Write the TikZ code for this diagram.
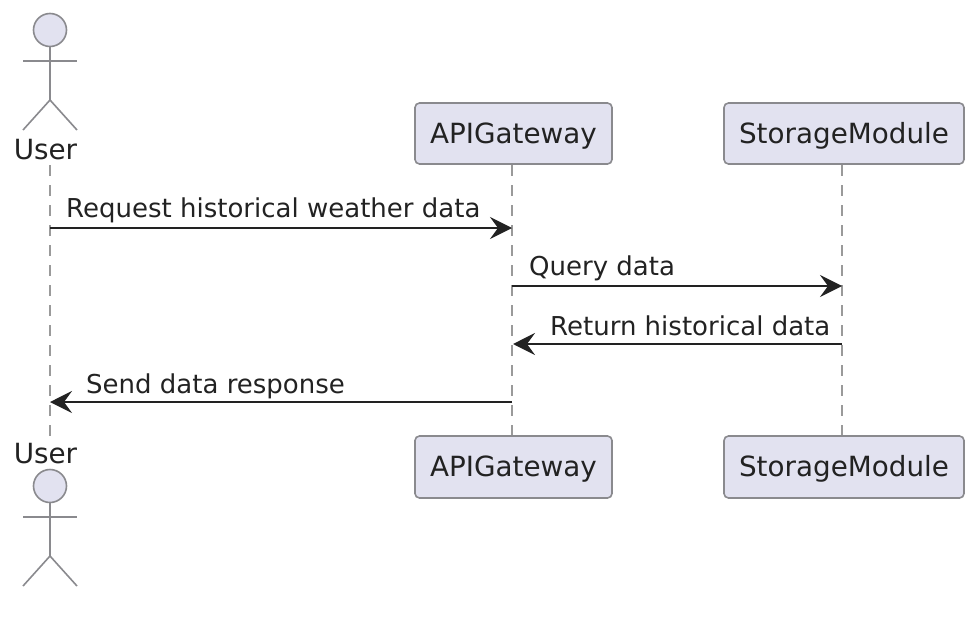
\documentclass[tikz,border=0pt]{standalone}
\usepackage{fontspec}
\setmainfont{DejaVu Sans}
\usetikzlibrary{arrows.meta}
\definecolor{partfill}{HTML}{E2E2F0}
\definecolor{partdraw}{HTML}{8A8A8E}
\definecolor{lifegray}{HTML}{9A9A9A}
\definecolor{inkdark}{HTML}{222222}
\tikzset{
  participant/.style={rectangle,rounded corners=4.5pt,draw=partdraw,line width=1.6pt,fill=partfill,text=inkdark,minimum height=61pt,inner sep=0pt,text height=22pt,text depth=2.5pt,font=\fontsize{27.8}{32}\selectfont},
  actorhead/.style={circle,draw=partdraw,line width=1.6pt,fill=partfill,minimum size=33pt,inner sep=0pt},
  actorline/.style={draw=partdraw,line width=1.6pt},
  actorname/.style={text=inkdark,inner sep=0pt,font=\fontsize{27.8}{32}\selectfont},
  lifeline/.style={draw=lifegray,line width=1.7pt,dash pattern=on 11pt off 9pt},
  message/.style={draw=inkdark,line width=2pt,-{Stealth[length=22pt,width=22pt,inset=8pt]}},
  msglabel/.style={text=inkdark,inner sep=0pt,anchor=base west,font=\fontsize{26}{30}\selectfont}
}
\begin{document}
\begin{tikzpicture}[x=1pt,y=-1pt]
  \useasboundingbox (0,0) rectangle (976,626);
  % lifelines
  \coordinate (userA) at (50,165);
  \coordinate (userB) at (50,436);
  \coordinate (apiA) at (512,165);
  \coordinate (apiB) at (512,436);
  \coordinate (storeA) at (842,165);
  \coordinate (storeB) at (842,436);
  \path [lifeline] (userA) -- (userB);
  \path [lifeline] (apiA) -- (apiB);
  \path [lifeline] (storeA) -- (storeB);
  % participants
  \node [participant,minimum width=197pt] (apiTop) at (513.5,133.5) {APIGateway};
  \node [participant,minimum width=240pt] (storeTop) at (844,133.5) {StorageModule};
  \node [participant,minimum width=197pt,minimum height=62pt] (apiBot) at (513.5,467) {APIGateway};
  \node [participant,minimum width=240pt,minimum height=62pt] (storeBot) at (844,467) {StorageModule};
  \node [actorname,anchor=base] (userTop) at (45.5,159) {User};
  \node [actorname,anchor=base] (userBot) at (45.5,463) {User};
  % stick figures
  \foreach \name/\y in {headTop/30,headBot/486} {
    \node [actorhead] (\name) at (50,\y) {};
    \coordinate (\name hip) at (50,\y+70);
    \draw [actorline] (\name.south) -- (\name hip);
    \draw [actorline] (23,\y+31) -- (77,\y+31);
    \draw [actorline] (23,\y+100) -- (\name hip) -- (77,\y+100);
  }
  % messages
  \coordinate (m1a) at (50,228);
  \coordinate (m1b) at (512,228);
  \coordinate (m2a) at (512,286);
  \coordinate (m2b) at (842,286);
  \coordinate (m3a) at (842,344);
  \coordinate (m3b) at (513,344);
  \coordinate (m4a) at (512,402);
  \coordinate (m4b) at (50,402);
  \path [message] (m1a) -- (m1b);
  \path [message] (m2a) -- (m2b);
  \path [message] (m3a) -- (m3b);
  \path [message] (m4a) -- (m4b);
  \node [msglabel] (l1) at (66,217) {Request historical weather data};
  \node [msglabel] (l2) at (529,275) {Query data};
  \node [msglabel] (l3) at (550,335) {Return historical data};
  \node [msglabel] (l4) at (86,393) {Send data response};
\end{tikzpicture}
\end{document}
